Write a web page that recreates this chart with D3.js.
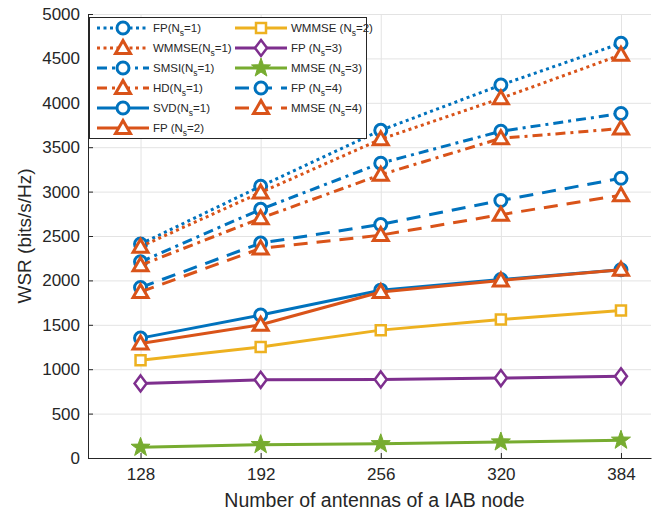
<!DOCTYPE html>
<html>
<head>
<meta charset="utf-8">
<script src="https://cdn.jsdelivr.net/npm/d3@7"></script>
<style>
  body { margin: 0; background: #fff; }
  text { font-family: "Liberation Sans", Arial, Helvetica, sans-serif; fill: #262626; }
</style>
</head>
<body>
<div id="chart"></div>
<script>
// x values (number of antennas)
const antennas = [128, 192, 256, 320, 384];

// WSR series
const fpNs1 = [2410, 3060, 3690, 4200, 4670];
const wmmseNs1 = [2380, 2990, 3590, 4050, 4540];
const smsiNs1 = [2210, 2800, 3320, 3680, 3880];
const hdNs1 = [2170, 2700, 3190, 3600, 3710];
const svdNs1 = [1350, 1610, 1890, 2010, 2120];
const fpNs2 = [1290, 1500, 1870, 2000, 2120];
const wmmseNs2 = [1100, 1250, 1440, 1560, 1660];
const fpNs3 = [840, 880, 885, 900, 920];
const mmseNs3 = [120, 150, 160, 180, 200];
const fpNs4 = [1920, 2420, 2630, 2900, 3150];
const mmseNs4 = [1870, 2360, 2510, 2740, 2960];

const xTicks = [128, 192, 256, 320, 384];
const yTicks = [0, 500, 1000, 1500, 2000, 2500, 3000, 3500, 4000, 4500, 5000];

const blue = "#0072BD", orange = "#D95319", yellow = "#EDB120",
      purple = "#7E2F8E", green = "#77AC30";

const dotted = "3,3.5", dashed = "14,9", dashdot = "10,5,3,5";

// series in drawing order: label parts [before, subscript, after]
const series = [
  { label: ["FP(N", "s", "=1)"], values: fpNs1, color: blue, dash: dotted, marker: "circle" },
  { label: ["WMMSE(N", "s", "=1)"], values: wmmseNs1, color: orange, dash: dotted, marker: "triangle" },
  { label: ["SMSI(N", "s", "=1)"], values: smsiNs1, color: blue, dash: dashdot, marker: "circle" },
  { label: ["HD(N", "s", "=1)"], values: hdNs1, color: orange, dash: dashdot, marker: "triangle" },
  { label: ["SVD(N", "s", "=1)"], values: svdNs1, color: blue, dash: null, marker: "circle" },
  { label: ["FP (N", "s", "=2)"], values: fpNs2, color: orange, dash: null, marker: "triangle" },
  { label: ["WMMSE (N", "s", "=2)"], values: wmmseNs2, color: yellow, dash: null, marker: "square" },
  { label: ["FP (N", "s", "=3)"], values: fpNs3, color: purple, dash: null, marker: "diamond" },
  { label: ["MMSE (N", "s", "=3)"], values: mmseNs3, color: green, dash: null, marker: "star" },
  { label: ["FP (N", "s", "=4)"], values: fpNs4, color: blue, dash: dashed, marker: "circle" },
  { label: ["MMSE (N", "s", "=4)"], values: mmseNs4, color: orange, dash: dashed, marker: "triangle" }
];

const W = 657, H = 515;
const plot = { left: 88, right: 651, top: 14, bottom: 458 };

const svg = d3.select("#chart").append("svg")
  .attr("width", W).attr("height", H);

const x = d3.scaleLinear().domain([100, 400]).range([plot.left, plot.right]);
const y = d3.scaleLinear().domain([0, 5000]).range([plot.bottom, plot.top]);

// grid
const grid = svg.append("g");
grid.append("g").attr("transform", `translate(0,${plot.bottom})`)
  .call(d3.axisBottom(x).tickValues(xTicks).tickSize(-(plot.bottom - plot.top)).tickFormat(""))
  .call(g => g.select(".domain").remove())
  .call(g => g.selectAll("line").attr("stroke", "#e3e3e3").attr("stroke-width", 1));
grid.append("g").attr("transform", `translate(${plot.left},0)`)
  .call(d3.axisLeft(y).tickValues(yTicks).tickSize(-(plot.right - plot.left)).tickFormat(""))
  .call(g => g.select(".domain").remove())
  .call(g => g.selectAll("line").attr("stroke", "#e3e3e3").attr("stroke-width", 1));

// axes
const xAxis = svg.append("g").attr("transform", `translate(0,${plot.bottom})`)
  .call(d3.axisBottom(x).tickValues(xTicks).tickSizeInner(-5).tickSizeOuter(0).tickPadding(10));
const yAxis = svg.append("g").attr("transform", `translate(${plot.left},0)`)
  .call(d3.axisLeft(y).tickValues(yTicks).tickFormat(d3.format("d"))
    .tickSizeInner(-5).tickSizeOuter(0).tickPadding(8));
[xAxis, yAxis].forEach(a => {
  a.select(".domain").attr("stroke", "#262626").attr("stroke-width", 1);
  a.selectAll(".tick line").attr("stroke", "#262626");
  a.selectAll(".tick text").attr("font-size", 17).attr("fill", "#262626")
    .attr("font-family", "Liberation Sans, Arial, sans-serif");
});

svg.append("text")
  .attr("x", (plot.left + plot.right) / 2 + 5).attr("y", 507)
  .attr("text-anchor", "middle").attr("font-size", 19.5)
  .text("Number of antennas of a IAB node");
svg.append("text")
  .attr("transform", `translate(31,${(plot.top + plot.bottom) / 2}) rotate(-90)`)
  .attr("text-anchor", "middle").attr("font-size", 19)
  .text("WSR (bits/s/Hz)");

function markerPath(type) {
  if (type === "circle") return "M6,0A6,6 0 1,1 -6,0A6,6 0 1,1 6,0Z";
  if (type === "triangle") return "M0,-7.5L7.5,5.5L-7.5,5.5Z";
  if (type === "square") return "M-5,-5L5,-5L5,5L-5,5Z";
  if (type === "diamond") return "M0,-8L6,0L0,8L-6,0Z";
  // five-point star
  let p = [];
  for (let i = 0; i < 10; i++) {
    const r = i % 2 === 0 ? 10 : 4;
    const a = -Math.PI / 2 + i * Math.PI / 5;
    p.push([r * Math.cos(a), r * Math.sin(a)]);
  }
  return "M" + p.map(d => d.join(",")).join("L") + "Z";
}

function drawMarker(g, s, cx, cy) {
  const star = s.marker === "star";
  g.append("path")
    .attr("d", markerPath(s.marker))
    .attr("transform", `translate(${cx},${cy})`)
    .attr("fill", star ? s.color : "#fff")
    .attr("stroke", s.color)
    .attr("stroke-width", star ? 1 : (s.marker === "square" || s.marker === "diamond" ? 2.5 : 3))
    .attr("stroke-linejoin", "miter");
}

const line = d3.line().x((d, i) => x(antennas[i])).y(d => y(d));

series.forEach(s => {
  const g = svg.append("g");
  g.append("path")
    .datum(s.values)
    .attr("d", line)
    .attr("fill", "none")
    .attr("stroke", s.color)
    .attr("stroke-width", 3)
    .attr("stroke-dasharray", s.dash)
    .attr("stroke-linejoin", "round");
  s.values.forEach((v, i) => drawMarker(g, s, x(antennas[i]), y(v)));
});

// legend
const leg = svg.append("g");
leg.append("rect")
  .attr("x", 89.5).attr("y", 17.5).attr("width", 277).attr("height", 121)
  .attr("fill", "#fff").attr("stroke", "#262626").attr("stroke-width", 1);

series.forEach((s, i) => {
  const col = i < 6 ? 0 : 1;
  const row = i < 6 ? i : i - 6;
  const x0 = col === 0 ? 97 : 235;
  const ly = 28 + row * 20;
  const g = leg.append("g");
  g.append("line")
    .attr("x1", x0).attr("x2", x0 + 52).attr("y1", ly).attr("y2", ly)
    .attr("stroke", s.color).attr("stroke-width", 3)
    .attr("stroke-dasharray", s.dash);
  drawMarker(g, s, x0 + 26, ly);
  const t = g.append("text")
    .attr("x", x0 + 56).attr("y", ly + 4)
    .attr("font-size", 11.5);
  t.append("tspan").text(s.label[0]);
  t.append("tspan").attr("font-size", 8.5).attr("dy", 4).text(s.label[1]);
  t.append("tspan").attr("dy", -4).text(s.label[2]);
});
</script>
</body>
</html>
